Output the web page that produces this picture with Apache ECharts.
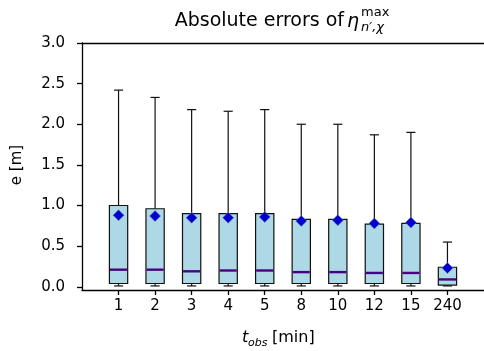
<!DOCTYPE html>
<html>
<head>
<meta charset="utf-8">
<script src="https://cdn.jsdelivr.net/npm/echarts@6/dist/echarts.min.js"></script>
<style>
html,body{margin:0;padding:0;background:#fff;}
#chart{width:484px;height:351px;}
</style>
</head>
<body>
<div id="chart"></div>
<script>
// Category tick labels (observation time in minutes)
var categories = ['1', '2', '3', '4', '5', '8', '10', '12', '15', '240'];
// Box statistics per category
var whiskerLow = [0.01, 0.01, 0.01, 0.01, 0.01, 0.01, 0.01, 0.01, 0.01, 0.01];
var q1Values   = [0.04, 0.04, 0.04, 0.04, 0.04, 0.04, 0.04, 0.04, 0.04, 0.02];
var medians    = [0.21, 0.21, 0.19, 0.20, 0.20, 0.18, 0.18, 0.17, 0.17, 0.09];
var q3Values   = [1.00, 0.96, 0.90, 0.90, 0.90, 0.83, 0.83, 0.77, 0.78, 0.24];
var whiskerHigh= [2.42, 2.33, 2.18, 2.16, 2.18, 2.00, 2.00, 1.87, 1.90, 0.55];
var means      = [0.88, 0.87, 0.85, 0.85, 0.86, 0.81, 0.82, 0.78, 0.79, 0.23];
var yTicks = [0, 0.5, 1.0, 1.5, 2.0, 2.5, 3.0];

var data = categories.map(function (c, i) {
  return [i + 1, whiskerLow[i], q1Values[i], medians[i], q3Values[i], whiskerHigh[i], means[i]];
});

var chart = echarts.init(document.getElementById('chart'), null, {renderer: 'canvas'});

function renderItem(params, api) {
  var x = api.value(0);
  var pLow = api.coord([x, api.value(1)]);
  var pQ1 = api.coord([x, api.value(2)]);
  var pMed = api.coord([x, api.value(3)]);
  var pQ3 = api.coord([x, api.value(4)]);
  var pHigh = api.coord([x, api.value(5)]);
  var pMean = api.coord([x, api.value(6)]);
  var bw = api.size([0.5, 0])[0];
  var cw = api.size([0.25, 0])[0];
  var cx = pQ1[0];
  var lineStyle = {stroke: '#111', lineWidth: 1.2};
  var d = 5.5;
  return {
    type: 'group',
    children: [
      {type: 'line', shape: {x1: cx, y1: pQ3[1], x2: cx, y2: pHigh[1]}, style: lineStyle},
      {type: 'line', shape: {x1: cx, y1: pQ1[1], x2: cx, y2: pLow[1]}, style: lineStyle},
      {type: 'line', shape: {x1: cx - cw / 2, y1: pHigh[1], x2: cx + cw / 2, y2: pHigh[1]}, style: lineStyle},
      {type: 'line', shape: {x1: cx - cw / 2, y1: pLow[1], x2: cx + cw / 2, y2: pLow[1]}, style: lineStyle},
      {type: 'rect', shape: {x: cx - bw / 2, y: pQ3[1], width: bw, height: pQ1[1] - pQ3[1]},
        style: {fill: '#add8e6', stroke: '#111', lineWidth: 1.2}},
      {type: 'line', shape: {x1: cx - bw / 2 + 0.6, y1: pMed[1], x2: cx + bw / 2 - 0.6, y2: pMed[1]},
        style: {stroke: '#4b0082', lineWidth: 2.4}},
      {type: 'polygon', shape: {points: [[cx, pMean[1] - d], [cx + d, pMean[1]], [cx, pMean[1] + d], [cx - d, pMean[1]]]},
        style: {fill: '#0000d0', stroke: '#8080a8', lineWidth: 0.6}}
    ]
  };
}

var fontFamily = 'DejaVu Sans';
var tickFont = 15;

chart.setOption({
  animation: false,
  backgroundColor: '#fff',
  textStyle: {fontFamily: fontFamily},
  grid: {left: 82, top: 43, width: 403, height: 247, containLabel: false},
  xAxis: [{
    type: 'value', min: 0, max: 11, position: 'bottom',
    splitLine: {show: false},
    axisLine: {show: true, onZero: false, lineStyle: {color: '#000', width: 1.3}},
    axisTick: {show: true, length: 5, lineStyle: {color: '#000', width: 1.3},
      customValues: [1, 2, 3, 4, 5, 6, 7, 8, 9, 10]},
    axisLabel: {show: true, margin: 9, color: '#000', fontSize: tickFont, fontFamily: fontFamily,
      customValues: [1, 2, 3, 4, 5, 6, 7, 8, 9, 10],
      formatter: function (v) { return categories[Math.round(v) - 1] || ''; }}
  }, {
    type: 'value', min: 0, max: 11, position: 'top',
    splitLine: {show: false},
    axisLine: {show: true, onZero: false, lineStyle: {color: '#000', width: 1.3}},
    axisTick: {show: false}, axisLabel: {show: false}
  }],
  yAxis: [{
    type: 'value', min: -0.04, max: 3.0,
    splitLine: {show: false},
    axisLine: {show: true, onZero: false, lineStyle: {color: '#000', width: 1.3}},
    axisTick: {show: true, length: 5, lineStyle: {color: '#000', width: 1.3}, customValues: yTicks},
    axisLabel: {show: true, margin: 17, color: '#000', fontSize: tickFont, fontFamily: fontFamily,
      customValues: yTicks,
      formatter: function (v) { return v.toFixed(1); }}
  }],
  series: [{
    type: 'custom',
    renderItem: renderItem,
    encode: {x: 0, y: [1, 2, 3, 4, 5, 6]},
    data: data,
    clip: false
  }],
  graphic: [
    {type: 'text', x: 344, y: 21, style: {text: 'Absolute errors of', fontSize: 19, fontFamily: fontFamily,
      fill: '#000', align: 'right', verticalAlign: 'middle'}},
    {type: 'text', x: 347, y: 22, style: {text: 'η', fontSize: 19, fontStyle: 'italic', fontFamily: fontFamily,
      fill: '#000', align: 'left', verticalAlign: 'middle'}},
    {type: 'text', x: 361, y: 13, style: {text: 'max', fontSize: 13, fontFamily: fontFamily,
      fill: '#000', align: 'left', verticalAlign: 'middle'}},
    {type: 'text', x: 361, y: 28, style: {text: 'n′,χ', fontSize: 13, fontStyle: 'italic', fontFamily: fontFamily,
      fill: '#000', align: 'left', verticalAlign: 'middle'}},
    {type: 'text', x: 17, y: 165, rotation: Math.PI / 2, style: {text: 'e [m]', fontSize: 15, fontFamily: fontFamily,
      fill: '#000', align: 'center', verticalAlign: 'middle'}},
    {type: 'text', x: 242, y: 338, style: {text: 't', fontSize: 16, fontStyle: 'italic', fontFamily: fontFamily,
      fill: '#000', align: 'left', verticalAlign: 'middle'}},
    {type: 'text', x: 248, y: 343, style: {text: 'obs', fontSize: 11, fontStyle: 'italic', fontFamily: fontFamily,
      fill: '#000', align: 'left', verticalAlign: 'middle'}},
    {type: 'text', x: 272, y: 338, style: {text: '[min]', fontSize: 16, fontFamily: fontFamily,
      fill: '#000', align: 'left', verticalAlign: 'middle'}}
  ]
});
</script>
</body>
</html>
